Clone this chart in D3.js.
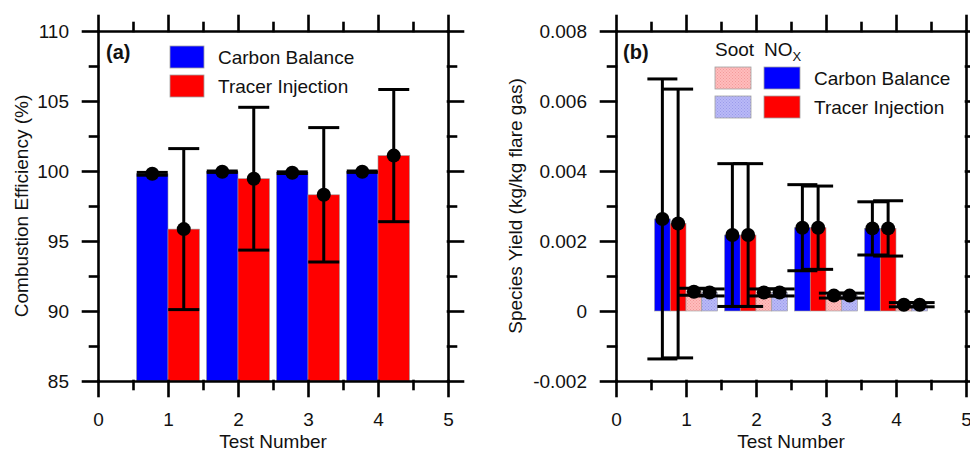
<!DOCTYPE html>
<html>
<head>
<meta charset="utf-8">
<script src="https://cdn.jsdelivr.net/npm/d3@7"></script>
<style>
  body { margin: 0; background: #fff; }
  text { font-family: "Liberation Sans", Arial, sans-serif; fill: #111; }
</style>
</head>
<body>
<div id="chart"></div>
<script>
// Data
const tests = [1, 2, 3, 4];
const xTicks = [0, 1, 2, 3, 4, 5];
const ceTicks = [85, 90, 95, 100, 105, 110];
const yieldTicks = [-0.002, 0, 0.002, 0.004, 0.006, 0.008];

// (a) combustion efficiency, %
const ceCarbon = [99.8, 99.95, 99.88, 99.95];
const ceCarbonErr = [0.1, 0.05, 0.06, 0.05];
const ceTracer = [95.85, 99.45, 98.3, 101.1];
const ceTracerErr = [5.75, 5.1, 4.8, 4.72];

// (b) species yield, kg/kg flare gas
const noxCarbon = [0.00263, 0.00217, 0.00238, 0.00236];
const noxCarbonErr = [0.004, 0.00204, 0.00123, 0.00076];
const noxTracer = [0.0025, 0.00217, 0.00238, 0.00236];
const noxTracerErr = [0.00384, 0.00204, 0.00119, 0.00079];
const sootCarbon = [0.00055, 0.00053, 0.00044, 0.00018];
const sootCarbonErr = [0.0001, 0.0001, 0.00007, 0.00006];
const sootTracer = [0.00053, 0.00053, 0.00044, 0.00018];
const sootTracerErr = [0.0001, 0.0001, 0.00007, 0.00006];

const w = 970;
const h = 451;
const plotTop = 31;
const plotBottom = 381;
const pw = 350;
const lw = 2.6;

const svg = d3
  .select("#chart")
  .append("svg")
  .attr("width", w)
  .attr("height", h);

// soot fill patterns (stippled light colours)
const defs = svg.append("defs");
[["sootPink", "#ffbcbc", "#f29a9a"], ["sootBlue", "#b9b9f7", "#9a9aea"]].forEach(
  ([id, base, dot]) => {
    const p = defs
      .append("pattern")
      .attr("id", id)
      .attr("width", 3)
      .attr("height", 3)
      .attr("patternUnits", "userSpaceOnUse");
    p.append("rect").attr("width", 3).attr("height", 3).attr("fill", base);
    p.append("rect").attr("width", 1).attr("height", 1).attr("fill", dot);
    p.append("rect").attr("x", 1.5).attr("y", 1.5).attr("width", 1).attr("height", 1).attr("fill", dot);
  }
);

// frame with ticks on all four sides, labels left and bottom
function drawFrame(g, xScale, yScale, yTicks, yFormat) {
  const xMinor = d3.range(0.5, 5, 1);
  const yStep = yTicks[1] - yTicks[0];
  const yMinor = yTicks.slice(0, -1).map(d => d + yStep / 2);

  const axes = [
    [d3.axisBottom(xScale), `translate(0,${plotBottom})`, true, xTicks, xMinor],
    [d3.axisTop(xScale), `translate(0,${plotTop})`, false, xTicks, xMinor],
    [d3.axisLeft(yScale), `translate(${xScale(0)},0)`, true, yTicks, yMinor],
    [d3.axisRight(yScale), `translate(${xScale(5)},0)`, false, yTicks, yMinor]
  ];

  axes.forEach(([axis, tr, labels, major, minor], i) => {
    const fmt = i < 2 ? d3.format("d") : yFormat;
    g.append("g")
      .attr("transform", tr)
      .call(
        axis
          .tickValues(minor)
          .tickSize(8)
          .tickSizeOuter(0)
          .tickFormat("")
      )
      .call(s => s.select(".domain").remove());
    const a = g
      .append("g")
      .attr("transform", tr)
      .call(
        axis
          .tickValues(major)
          .tickSize(15)
          .tickSizeOuter(0)
          .tickPadding(i < 2 ? 17 : 14)
          .tickFormat(labels ? fmt : "")
      );
    a.selectAll("text")
      .style("font-size", "19px")
      .style("font-family", '"Liberation Sans", Arial, sans-serif')
      .attr("fill", "#111");
  });

  g.selectAll(".domain, .tick line")
    .attr("stroke", "#000")
    .attr("stroke-width", lw)
    .attr("stroke-linecap", "square");
}

function errorBars(g, xs, ys, vals, errs, cap) {
  const d = tests.map((t, i) => ({ x: xs(i), v: vals[i], e: errs[i] }));
  const eb = g.append("g").attr("stroke", "#000").attr("stroke-width", 3);
  eb.selectAll(".v")
    .data(d)
    .enter()
    .append("line")
    .attr("x1", e => e.x)
    .attr("x2", e => e.x)
    .attr("y1", e => ys(e.v - e.e))
    .attr("y2", e => ys(e.v + e.e));
  ["lo", "hi"].forEach(k => {
    eb.selectAll("." + k)
      .data(d)
      .enter()
      .append("line")
      .attr("x1", e => e.x - cap / 2)
      .attr("x2", e => e.x + cap / 2)
      .attr("y1", e => ys(k === "lo" ? e.v - e.e : e.v + e.e))
      .attr("y2", e => ys(k === "lo" ? e.v - e.e : e.v + e.e));
  });
}

function dots(g, xs, ys, vals) {
  g.append("g")
    .selectAll("circle")
    .data(vals)
    .enter()
    .append("circle")
    .attr("cx", (d, i) => xs(i))
    .attr("cy", d => ys(d))
    .attr("r", 7)
    .attr("fill", "#000");
}

function bars(g, xScale, yScale, vals, off, width, fill, base) {
  g.append("g")
    .selectAll("rect")
    .data(vals)
    .enter()
    .append("rect")
    .attr("x", (d, i) => xScale(tests[i] + off))
    .attr("width", xScale(width) - xScale(0))
    .attr("y", d => yScale(Math.max(d, base)))
    .attr("height", d => Math.abs(yScale(base) - yScale(d)))
    .attr("fill", fill)
    .attr("stroke", "#9a9a9a")
    .attr("stroke-width", 0.6);
}

function legendRow(g, x, y, fill, label, sw) {
  g.append("rect")
    .attr("x", x)
    .attr("y", y)
    .attr("width", sw)
    .attr("height", 22)
    .attr("fill", fill)
    .attr("stroke", "#a0a0a0")
    .attr("stroke-width", 0.8);
  if (label) {
    g.append("text")
      .attr("x", x + sw + 14)
      .attr("y", y + 18)
      .style("font-size", "19px")
      .text(label);
  }
}

// ---------- panel (a) ----------
const xA = d3.scaleLinear().domain([0, 5]).range([98, 98 + pw]);
const yA = d3.scaleLinear().domain([85, 110]).range([plotBottom, plotTop]);
const gA = svg.append("g");

bars(gA, xA, yA, ceCarbon, -0.45, 0.45, "#0000ff", 85);
bars(gA, xA, yA, ceTracer, 0, 0.45, "#ff0000", 85);
errorBars(gA, i => xA(tests[i] - 0.225), yA, ceCarbon, ceCarbonErr, 31);
errorBars(gA, i => xA(tests[i] + 0.225), yA, ceTracer, ceTracerErr, 31);
dots(gA, i => xA(tests[i] - 0.225), yA, ceCarbon);
dots(gA, i => xA(tests[i] + 0.225), yA, ceTracer);

drawFrame(gA, xA, yA, ceTicks, d3.format("d"));

legendRow(gA, 170, 46, "#0000ff", "Carbon Balance", 34);
legendRow(gA, 170, 75, "#ff0000", "Tracer Injection", 34);

gA.append("text")
  .attr("x", 106)
  .attr("y", 59)
  .style("font-size", "20px")
  .style("font-weight", "bold")
  .text("(a)");

gA.append("text")
  .attr("transform", `translate(28,${(plotTop + plotBottom) / 2}) rotate(-90)`)
  .attr("text-anchor", "middle")
  .style("font-size", "19px")
  .text("Combustion Efficiency (%)");

gA.append("text")
  .attr("x", 98 + pw / 2)
  .attr("y", 448)
  .attr("text-anchor", "middle")
  .style("font-size", "19px")
  .text("Test Number");

// ---------- panel (b) ----------
const xB = d3.scaleLinear().domain([0, 5]).range([616, 616 + pw]);
const yB = d3.scaleLinear().domain([-0.002, 0.008]).range([plotBottom, plotTop]);
const gB = svg.append("g");

bars(gB, xB, yB, noxCarbon, -0.45, 0.225, "#0000ff", 0);
bars(gB, xB, yB, noxTracer, -0.225, 0.225, "#ff0000", 0);
bars(gB, xB, yB, sootCarbon, 0, 0.225, "url(#sootPink)", 0);
bars(gB, xB, yB, sootTracer, 0.225, 0.225, "url(#sootBlue)", 0);

const cx = off => i => xB(tests[i] + off);
errorBars(gB, cx(-0.3375), yB, noxCarbon, noxCarbonErr, 30);
errorBars(gB, cx(-0.1125), yB, noxTracer, noxTracerErr, 30);
errorBars(gB, cx(0.1125), yB, sootCarbon, sootCarbonErr, 30);
errorBars(gB, cx(0.3375), yB, sootTracer, sootTracerErr, 30);
dots(gB, cx(-0.3375), yB, noxCarbon);
dots(gB, cx(-0.1125), yB, noxTracer);
dots(gB, cx(0.1125), yB, sootCarbon);
dots(gB, cx(0.3375), yB, sootTracer);

drawFrame(gB, xB, yB, yieldTicks, d => (d === 0 ? "0" : d.toFixed(3)));

legendRow(gB, 715, 67, "url(#sootPink)", null, 36);
legendRow(gB, 715, 96, "url(#sootBlue)", null, 36);
legendRow(gB, 764, 67, "#0000ff", "Carbon Balance", 36);
legendRow(gB, 764, 96, "#ff0000", "Tracer Injection", 36);

gB.append("text")
  .attr("x", 715)
  .attr("y", 56)
  .style("font-size", "19px")
  .text("Soot");

const nox = gB
  .append("text")
  .attr("x", 764)
  .attr("y", 56)
  .style("font-size", "19px");
nox.append("tspan").text("NO");
nox.append("tspan").attr("dy", 5).style("font-size", "13px").text("X");

gB.append("text")
  .attr("x", 623)
  .attr("y", 59)
  .style("font-size", "20px")
  .style("font-weight", "bold")
  .text("(b)");

gB.append("text")
  .attr("transform", `translate(522,${(plotTop + plotBottom) / 2}) rotate(-90)`)
  .attr("text-anchor", "middle")
  .style("font-size", "19px")
  .text("Species Yield (kg/kg flare gas)");

gB.append("text")
  .attr("x", 616 + pw / 2)
  .attr("y", 448)
  .attr("text-anchor", "middle")
  .style("font-size", "19px")
  .text("Test Number");
</script>
</body>
</html>
